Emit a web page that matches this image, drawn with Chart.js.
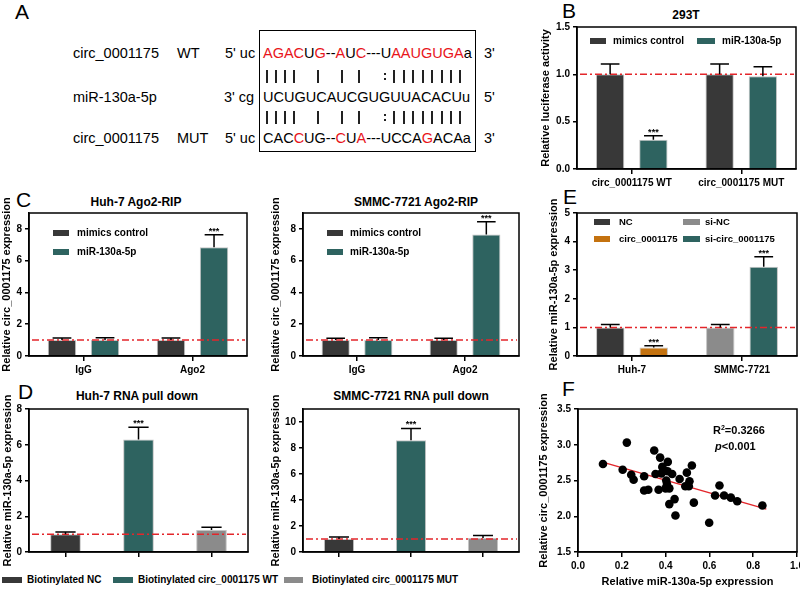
<!DOCTYPE html>
<html>
<head>
<meta charset="utf-8">
<script src="https://cdn.jsdelivr.net/npm/chart.js@4.4.0/dist/chart.umd.min.js"></script>
<style>
body { margin: 0; background: #fff; font-family: "Liberation Sans", Arial, Helvetica, sans-serif; }
#fig { position: relative; width: 800px; height: 590px; overflow: hidden; }
.t { position: absolute; white-space: nowrap; line-height: 1; color: #000; }
.letter { font-size: 21px; }
.ttl { font-size: 12px; font-weight: bold; transform: translateX(-50%); }
.seq { font-size: 14.5px; }
.red { color: #e8141b; }
.lg { font-size: 10px; font-weight: bold; }
.sw { position: absolute; height: 6px; }
.pipe { position: absolute; width: 1.5px; height: 13px; background: #222; }
.dot { position: absolute; width: 2px; height: 2px; background: #222; }
canvas { position: absolute; }
#seqbox { position: absolute; left: 259px; top: 30px; width: 215px; height: 120px; border: 1.5px solid #000; }
</style>
</head>
<body>
<div id="fig">
  <!-- panel letters -->
  <div class="t letter" style="left:15px;top:1px">A</div>
  <div class="t letter" style="left:562px;top:0px">B</div>
  <div class="t letter" style="left:16px;top:189px">C</div>
  <div class="t letter" style="left:563px;top:186px">E</div>
  <div class="t letter" style="left:18px;top:381px">D</div>
  <div class="t letter" style="left:562px;top:378px">F</div>

  <!-- panel A -->
  <div id="seqbox"></div>
  <div class="t seq" style="left:73px;top:46px">circ_0001175</div>
  <div class="t seq" style="left:177px;top:46px">WT</div>
  <div class="t seq" style="left:225px;top:46px">5' uc</div>
  <div class="t seq" style="left:263px;top:46px"><span class="red">AGAC</span>U<span class="red">G</span>--<span class="red">A</span>U<span class="red">C</span>---U<span class="red">AAUGUGA</span>a</div>
  <div class="t seq" style="left:484px;top:46px">3'</div>

  <div class="t seq" style="left:73px;top:90px">miR-130a-5p</div>
  <div class="t seq" style="left:224px;top:90px">3' cg</div>
  <div class="t seq" style="left:263px;top:90px">UCUGUCAUCGUGUUACACUu</div>
  <div class="t seq" style="left:484px;top:90px">5'</div>

  <div class="t seq" style="left:73px;top:131px">circ_0001175</div>
  <div class="t seq" style="left:177px;top:131px">MUT</div>
  <div class="t seq" style="left:225px;top:131px">5' uc</div>
  <div class="t seq" style="left:263px;top:131px">CAC<span class="red">C</span>UG--<span class="red">C</span>U<span class="red">A</span>---UCCA<span class="red">G</span>ACAa</div>
  <div class="t seq" style="left:484px;top:131px">3'</div>
  <div id="pipes"></div>

  <!-- titles -->
  <div class="t ttl" style="left:686px;top:9px">293T</div>
  <div class="t ttl" style="left:136px;top:196px">Huh-7 Ago2-RIP</div>
  <div class="t ttl" style="left:416px;top:196px">SMMC-7721 Ago2-RIP</div>
  <div class="t ttl" style="left:137px;top:390px">Huh-7 RNA pull down</div>
  <div class="t ttl" style="left:411px;top:390px">SMMC-7721 RNA pull down</div>

  <canvas id="chartB" width="268" height="172" style="left:539px;top:18px"></canvas>
  <canvas id="chartC1" width="252" height="184" style="left:0px;top:196px"></canvas>
  <canvas id="chartC2" width="255" height="184" style="left:269px;top:196px"></canvas>
  <canvas id="chartE" width="258" height="184" style="left:547px;top:196px"></canvas>
  <canvas id="chartD1" width="251" height="180" style="left:1px;top:392px"></canvas>
  <canvas id="chartD2" width="255" height="180" style="left:269px;top:392px"></canvas>
  <canvas id="chartF" width="270" height="197" style="left:537px;top:392px"></canvas>

  <!-- legends -->
  <div class="sw" style="left:590px;top:38px;width:16px;background:#383838"></div>
  <div class="t lg" style="left:613px;top:36px">mimics control</div>
  <div class="sw" style="left:697px;top:38px;width:18px;background:#2e6360"></div>
  <div class="t lg" style="left:722px;top:36px">miR-130a-5p</div>

  <div class="sw" style="left:53px;top:230px;width:16px;background:#383838"></div>
  <div class="t lg" style="left:77px;top:228px">mimics control</div>
  <div class="sw" style="left:53px;top:249px;width:16px;background:#2e6360"></div>
  <div class="t lg" style="left:77px;top:247px">miR-130a-5p</div>

  <div class="sw" style="left:327px;top:230px;width:16px;background:#383838"></div>
  <div class="t lg" style="left:350px;top:228px">mimics control</div>
  <div class="sw" style="left:327px;top:249px;width:16px;background:#2e6360"></div>
  <div class="t lg" style="left:350px;top:247px">miR-130a-5p</div>

  <div class="sw" style="left:594px;top:219px;width:16px;background:#383838"></div>
  <div class="t lg" style="left:619px;top:217px;font-size:9.5px">NC</div>
  <div class="sw" style="left:594px;top:236px;width:16px;background:#c4720f"></div>
  <div class="t lg" style="left:619px;top:234px;font-size:9.5px">circ_0001175</div>
  <div class="sw" style="left:683px;top:219px;width:17px;background:#8b8b8b"></div>
  <div class="t lg" style="left:705px;top:217px;font-size:9.5px">si-NC</div>
  <div class="sw" style="left:683px;top:236px;width:17px;background:#2e6360"></div>
  <div class="t lg" style="left:705px;top:234px;font-size:9.5px">si-circ_0001175</div>

  <div class="sw" style="left:2px;top:577px;width:20px;background:#383838"></div>
  <div class="t lg" style="left:27px;top:575px">Biotinylated NC</div>
  <div class="sw" style="left:113px;top:577px;width:20px;background:#2e6360"></div>
  <div class="t lg" style="left:138px;top:575px">Biotinylated circ_0001175 WT</div>
  <div class="sw" style="left:284px;top:577px;width:19px;background:#8b8b8b"></div>
  <div class="t lg" style="left:312px;top:575px">Biotinylated circ_0001175 MUT</div>

  <!-- F annotation -->
  <div class="t lg" style="left:713px;top:424px;font-size:11px">R<sup style="font-size:7px;vertical-align:4px">2</sup>=0.3266</div>
  <div class="t lg" style="left:715px;top:441px;font-size:11px"><i>p</i>&lt;0.001</div>
</div>

<script>
// ---- data ----
// B: luciferase reporter, 293T
const luciferaseCats = ['circ_0001175 WT', 'circ_0001175 MUT'];
const lucControl = [1.0, 1.0];
const lucControlErr = [0.11, 0.11];
const lucMimic = [0.31, 0.98];
const lucMimicErr = [0.04, 0.10];

// C: Ago2-RIP
const ripCats = ['IgG', 'Ago2'];
const ripHuhControl = [1.0, 1.0];
const ripHuhControlErr = [0.13, 0.13];
const ripHuhMimic = [1.0, 6.85];
const ripHuhMimicErr = [0.15, 0.78];
const ripSmmcControl = [1.0, 1.0];
const ripSmmcControlErr = [0.12, 0.12];
const ripSmmcMimic = [1.0, 7.65];
const ripSmmcMimicErr = [0.15, 0.8];

// E: miR-130a-5p expression
const exprCats = ['Huh-7', 'SMMC-7721'];
const exprNC = [1.0, null];
const exprNCErr = [0.1, null];
const exprCirc = [0.3, null];
const exprCircErr = [0.06, null];
const exprSiNC = [null, 1.0];
const exprSiNCErr = [null, 0.1];
const exprSiCirc = [null, 3.12];
const exprSiCircErr = [null, 0.35];

// D: RNA pull down
const pullCats = ['Biotinylated NC', 'Biotinylated circ_0001175 WT', 'Biotinylated circ_0001175 MUT'];
const pullHuh = [1.0, 6.3, 1.23];
const pullHuhErr = [0.12, 0.68, 0.16];
const pullSmmc = [1.0, 8.6, 1.08];
const pullSmmcErr = [0.15, 0.9, 0.18];

// F: correlation
const corrX = [0.114, 0.204, 0.223, 0.243, 0.254, 0.302, 0.302, 0.321, 0.348, 0.354,
               0.368, 0.375, 0.381, 0.385, 0.395, 0.403, 0.41, 0.409, 0.406, 0.40,
               0.417, 0.417, 0.43, 0.441, 0.445, 0.464, 0.49, 0.497, 0.509, 0.506,
               0.52, 0.529, 0.599, 0.626, 0.646, 0.667, 0.698, 0.727, 0.842];
const corrY = [2.73, 2.65, 3.03, 2.58, 2.51, 2.56, 2.36, 2.37, 2.92, 2.59,
               2.37, 2.82, 2.60, 2.69, 2.64, 2.50, 2.76, 2.63, 2.45, 2.39,
               2.39, 2.17, 2.59, 2.24, 2.01, 2.52, 2.42, 2.61, 2.49, 2.42,
               2.71, 2.19, 1.91, 2.29, 2.43, 2.29, 2.26, 2.21, 2.15];
const fitX = [0.12, 0.86];
const fitY = [2.75, 2.10];

// ---- colours / defaults ----
const DARK = '#383838', TEAL = '#2e6360', GRAY = '#8b8b8b', ORANGE = '#c4720f', RED = '#e3262b';
const FONT = '"Liberation Sans", Arial, Helvetica, sans-serif';
Chart.defaults.font.family = FONT;
Chart.defaults.font.weight = 'bold';
Chart.defaults.font.size = 10;
Chart.defaults.color = '#000';
Chart.defaults.animation = false;
Chart.defaults.plugins.legend.display = false;
Chart.defaults.plugins.tooltip.enabled = false;

// pairing marks between sequences in panel A (index 7 is the G:U wobble)
const pipeXs = [267, 276, 285, 294, 318, 342, 359, 385, 394, 404, 413, 423, 432, 442, 451, 460];
const pipeRowsY = [76, 117];
const pipesDiv = document.getElementById('pipes');
pipeRowsY.forEach(y => {
  pipeXs.forEach((x, i) => {
    if (i === 7) {
      [-3, 2].forEach(dy => {
        const d = document.createElement('div');
        d.className = 'dot';
        d.style.left = (x - 1) + 'px';
        d.style.top = (y + dy) + 'px';
        pipesDiv.appendChild(d);
      });
      return;
    }
    const d = document.createElement('div');
    d.className = 'pipe';
    d.style.left = (x - 0.75) + 'px';
    d.style.top = (y - 6.5) + 'px';
    pipesDiv.appendChild(d);
  });
});

// ---- plugins ----
const boxPlugin = {
  id: 'box',
  afterDraw(chart) {
    const a = chart.chartArea, ctx = chart.ctx;
    ctx.save();
    ctx.strokeStyle = '#000';
    ctx.lineWidth = 1.5;
    ctx.strokeRect(a.left, a.top, a.right - a.left, a.bottom - a.top);
    ctx.restore();
  }
};

const refLinePlugin = {
  id: 'refLine',
  afterDatasetsDraw(chart, args, opts) {
    if (opts.value == null) return;
    const a = chart.chartArea, ctx = chart.ctx;
    const py = chart.scales.y.getPixelForValue(opts.value);
    ctx.save();
    ctx.strokeStyle = RED;
    ctx.lineWidth = 1.5;
    ctx.setLineDash([7, 3, 2, 3]);
    ctx.beginPath();
    ctx.moveTo(a.left + 3, py);
    ctx.lineTo(a.right - 2, py);
    ctx.stroke();
    ctx.restore();
  }
};

const errBarPlugin = {
  id: 'errBars',
  afterDatasetsDraw(chart, args, opts) {
    const ctx = chart.ctx, y = chart.scales.y;
    (opts.errors || []).forEach((errs, i) => {
      const meta = chart.getDatasetMeta(i);
      const vals = chart.data.datasets[i].data;
      meta.data.forEach((bar, j) => {
        const v = vals[j];
        if (v == null || errs[j] == null) return;
        const top = y.getPixelForValue(v + errs[j]);
        const half = bar.width * 0.33;
        ctx.save();
        ctx.strokeStyle = '#000';
        ctx.lineWidth = 1.5;
        ctx.beginPath();
        ctx.moveTo(bar.x, bar.y);
        ctx.lineTo(bar.x, top);
        ctx.moveTo(bar.x - half, top);
        ctx.lineTo(bar.x + half, top);
        ctx.stroke();
        const star = opts.stars && opts.stars[i] && opts.stars[i][j];
        if (star) {
          ctx.fillStyle = '#000';
          ctx.font = 'bold 9px ' + FONT;
          ctx.textAlign = 'center';
          ctx.textBaseline = 'bottom';
          ctx.fillText(star, bar.x, top + 1);
        }
        ctx.restore();
      });
    });
  }
};

function yAxis(min, max, step, width, title, fmt) {
  return {
    min: min, max: max,
    afterFit: s => { s.width = width; },
    ticks: { stepSize: step, includeBounds: false, padding: 3, callback: fmt || (v => v) },
    grid: { drawOnChartArea: false, tickLength: 4, color: '#000', lineWidth: 1.5 },
    border: { color: '#000', width: 1.5 },
    title: { display: true, text: title, padding: 0, font: { size: 11, weight: 'bold' } }
  };
}

function xAxis(height, showLabels) {
  return {
    afterFit: s => { s.height = height; },
    ticks: { padding: 3, callback: function (v) { return showLabels ? this.getLabelForValue(v) : ''; } },
    grid: { offset: false, drawOnChartArea: false, tickLength: 5, color: '#000', lineWidth: 1.5 },
    border: { color: '#000', width: 1.5 }
  };
}

function bar(label, data, color, catPct, barPct) {
  return {
    label: label, data: data, backgroundColor: color,
    borderColor: '#c4c4c4', borderWidth: 1,
    categoryPercentage: catPct, barPercentage: barPct, skipNull: true
  };
}

function barChart(id, labels, datasets, cfg) {
  return new Chart(document.getElementById(id), {
    type: 'bar',
    data: { labels: labels, datasets: datasets },
    plugins: [refLinePlugin, errBarPlugin, boxPlugin],
    options: {
      responsive: false,
      layout: { padding: cfg.pad },
      scales: { x: xAxis(cfg.xH, cfg.showLabels !== false), y: cfg.y },
      plugins: {
        refLine: { value: 1 },
        errBars: { errors: cfg.errors, stars: cfg.stars }
      }
    }
  });
}

// B
barChart('chartB', luciferaseCats, [
  bar('mimics control', lucControl, DARK, 0.79, 0.655),
  bar('miR-130a-5p', lucMimic, TEAL, 0.79, 0.655)
], {
  pad: { top: 7, right: 11, left: 0, bottom: 0 }, xH: 21,
  y: yAxis(0, 1.5, 0.5, 38, 'Relative luciferase activity', v => v.toFixed(1)),
  errors: [lucControlErr, lucMimicErr],
  stars: [['', ''], ['***', '']]
});

// C left
barChart('chartC1', ripCats, [
  bar('mimics control', ripHuhControl, DARK, 0.79, 0.66),
  bar('miR-130a-5p', ripHuhMimic, TEAL, 0.79, 0.66)
], {
  pad: { top: 17, right: 5, left: 0, bottom: 0 }, xH: 24,
  y: yAxis(0, 9, 2, 29, 'Relative circ_0001175 expression'),
  errors: [ripHuhControlErr, ripHuhMimicErr],
  stars: [['', ''], ['', '***']]
});

// C right
barChart('chartC2', ripCats, [
  bar('mimics control', ripSmmcControl, DARK, 0.79, 0.66),
  bar('miR-130a-5p', ripSmmcMimic, TEAL, 0.79, 0.66)
], {
  pad: { top: 17, right: 5, left: 0, bottom: 0 }, xH: 24,
  y: yAxis(0, 9, 2, 34, 'Relative circ_0001175 expression'),
  errors: [ripSmmcControlErr, ripSmmcMimicErr],
  stars: [['', ''], ['', '***']]
});

// E
barChart('chartE', exprCats, [
  bar('NC', exprNC, DARK, 0.79, 0.655),
  bar('circ_0001175', exprCirc, ORANGE, 0.79, 0.655),
  bar('si-NC', exprSiNC, GRAY, 0.79, 0.655),
  bar('si-circ_0001175', exprSiCirc, TEAL, 0.79, 0.655)
], {
  pad: { top: 17, right: 8, left: 0, bottom: 0 }, xH: 24,
  y: yAxis(0, 5, 1, 30, 'Relative miR-130a-5p expression'),
  errors: [exprNCErr, exprCircErr, exprSiNCErr, exprSiCircErr],
  stars: [['', ''], ['***', ''], ['', ''], ['', '***']]
});

// D left
barChart('chartD1', pullCats, [
  bar('pull down', pullHuh, [DARK, TEAL, GRAY], 1, 0.42)
], {
  pad: { top: 17, right: 4, left: 0, bottom: 0 }, xH: 20, showLabels: false,
  y: yAxis(0, 8, 2, 28, 'Relative miR-130a-5p expression'),
  errors: [pullHuhErr],
  stars: [['', '***', '']]
});

// D right
barChart('chartD2', pullCats, [
  bar('pull down', pullSmmc, [DARK, TEAL, GRAY], 1, 0.42)
], {
  pad: { top: 17, right: 5, left: 0, bottom: 0 }, xH: 20, showLabels: false,
  y: yAxis(0, 11, 2, 34, 'Relative miR-130a-5p expression'),
  errors: [pullSmmcErr],
  stars: [['', '***', '']]
});

// F
const corrPoints = corrX.map((x, i) => ({ x: x, y: corrY[i] }));
const fitPoints = fitX.map((x, i) => ({ x: x, y: fitY[i] }));
new Chart(document.getElementById('chartF'), {
  type: 'scatter',
  data: {
    datasets: [
      { data: corrPoints, backgroundColor: '#000', borderColor: '#000', pointRadius: 4.3, borderWidth: 0 },
      { type: 'line', data: fitPoints, borderColor: RED, borderWidth: 1.5, pointRadius: 0, fill: false }
    ]
  },
  plugins: [boxPlugin],
  options: {
    responsive: false,
    layout: { padding: { top: 17, right: 10, left: 0, bottom: 0 } },
    scales: {
      x: {
        type: 'linear', min: 0, max: 1,
        afterFit: s => { s.height = 37; },
        ticks: { stepSize: 0.2, padding: 3, callback: v => v.toFixed(1) },
        grid: { drawOnChartArea: false, tickLength: 5, color: '#000', lineWidth: 1.5 },
        border: { color: '#000', width: 1.5 },
        title: { display: true, text: 'Relative miR-130a-5p expression', padding: 0, font: { size: 11, weight: 'bold' } }
      },
      y: yAxis(1.5, 3.5, 0.5, 41, 'Relative circ_0001175 expression', v => v.toFixed(1))
    }
  }
});
</script>
</body>
</html>
